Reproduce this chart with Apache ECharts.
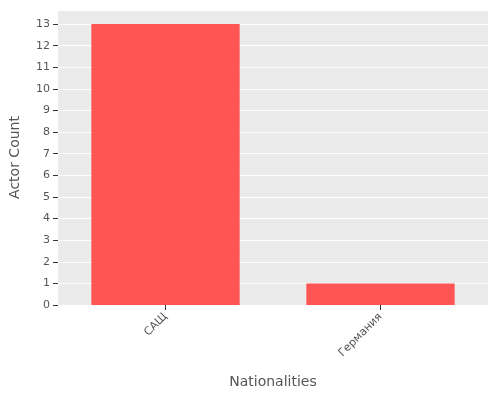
<!DOCTYPE html><html><head><meta charset="utf-8"><script src="https://cdn.jsdelivr.net/npm/echarts@6/dist/echarts.min.js"></script></head><body style="margin:0"><div id="c" style="width:500px;height:400px"></div><script>
const categories=["САЩ","Германия"];
const values=[13,1];
const ch=echarts.init(document.getElementById('c'));
ch.setOption({
grid:{left:58,right:12,top:10,bottom:95,show:true,backgroundColor:'#EBEBEB',borderWidth:0},
xAxis:{type:'category',data:categories,name:'Nationalities',nameLocation:'middle',nameGap:70,
nameTextStyle:{fontFamily:'DejaVu Sans',fontSize:14,color:'#555'},
axisLine:{show:false},axisTick:{show:true,alignWithLabel:true,lineStyle:{color:'#333'}},
axisLabel:{rotate:45,fontFamily:'DejaVu Sans',fontSize:11,color:'#555',margin:10}},
yAxis:{type:'value',min:0,max:13.65,interval:1,name:'Actor Count',nameLocation:'middle',nameGap:36,
nameTextStyle:{fontFamily:'DejaVu Sans',fontSize:14,color:'#555'},
axisLabel:{showMaxLabel:false,fontFamily:'DejaVu Sans',fontSize:11,color:'#555'},
axisTick:{show:true,lineStyle:{color:'#333'}},axisLine:{show:false},
splitLine:{lineStyle:{color:'#fff'}}},
series:[{type:'bar',data:values,barWidth:'69%',itemStyle:{color:'#FF5555'}}]
});
</script></body></html>
